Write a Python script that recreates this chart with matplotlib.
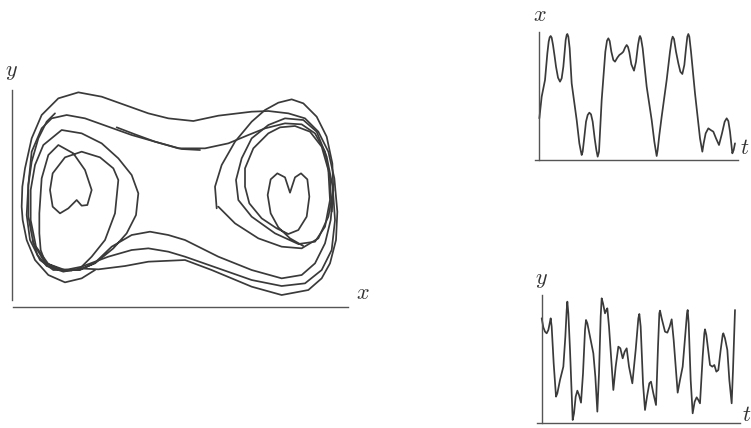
import matplotlib
matplotlib.use("Agg")
import matplotlib.pyplot as plt

plt.rcParams['mathtext.fontset'] = 'cm'

# phase portrait strands (x, y)
strand_outer = [(285, 110), (245, 85), (195, 73), (145, 95), (105, 140), (80, 200), (68, 260), (65, 300),
                (67, 360), (75, 415), (95, 505), (125, 575), (175, 625), (235, 643), (305, 630), (375, 605),
                (445, 580), (505, 565), (580, 557), (655, 573), (755, 585), (805, 587), (865, 580), (915, 565),
                (955, 525), (985, 465), (1003, 385), (1012, 285), (1008, 200), (990, 130), (965, 85), (925, 50),
                (845, 35), (755, 60), (635, 110), (555, 140), (445, 135), (375, 122), (295, 112), (235, 115)]

strand_start = [(165, 580), (140, 555), (115, 505), (95, 435), (85, 365), (80, 275), (90, 200), (120, 140),
                (160, 110), (205, 112), (245, 120), (325, 150), (395, 170), (445, 175), (505, 165), (555, 150),
                (655, 115), (755, 80), (845, 62), (915, 70), (965, 110), (995, 170), (1005, 260), (998, 360),
                (980, 450), (950, 525), (910, 560), (855, 565), (805, 545), (755, 505), (725, 445), (708, 380),
                (715, 320), (755, 270), (825, 220), (895, 188), (945, 195), (975, 240), (990, 320), (985, 410),
                (965, 480), (930, 525), (885, 542), (840, 538), (805, 520), (760, 475), (735, 415), (735, 360),
                (748, 310), (785, 265), (830, 235), (865, 218), (895, 230), (920, 270), (928, 330), (922, 382),
                (903, 400), (885, 388), (870, 342), (855, 388), (832, 400), (812, 382), (803, 335), (812, 280),
                (835, 238), (870, 205), (910, 182)]

strand_right = [(650, 295), (645, 360), (665, 425), (705, 495), (755, 555), (795, 590), (835, 612), (875, 622),
                (910, 610), (950, 570), (980, 510), (997, 430), (1000, 350), (985, 270), (955, 205), (905, 175),
                (845, 180), (775, 205), (705, 250), (655, 300)]

strand_cross = [(1000, 350), (992, 260), (975, 190), (945, 130), (905, 95), (845, 85), (755, 110), (655, 150),
                (555, 200), (505, 215), (450, 225), (395, 215), (335, 180), (285, 132), (240, 110), (195, 110),
                (145, 128), (108, 180), (92, 260), (92, 350), (105, 425), (130, 485), (185, 530), (245, 520),
                (305, 490), (355, 445), (395, 395), (415, 340), (408, 275), (380, 220), (340, 175), (285, 130),
                (235, 110), (185, 110), (135, 132), (100, 190), (85, 270), (85, 365), (95, 465), (125, 535),
                (155, 565), (200, 575), (255, 565), (325, 540), (395, 515), (465, 495), (535, 475), (615, 475),
                (685, 490), (745, 515), (795, 535), (855, 550), (905, 547), (945, 520), (975, 465), (990, 385),
                (995, 285)]

strand_heart = [(215, 108), (165, 112), (135, 135), (122, 170), (118, 220), (118, 280), (125, 385), (145, 455),
                (175, 485), (220, 460), (255, 410), (275, 350), (262, 305), (245, 303), (230, 320), (205, 295),
                (180, 280), (158, 300), (150, 350), (158, 400), (195, 448), (245, 465), (300, 448), (340, 415),
                (355, 380), (350, 330), (345, 280), (315, 200), (275, 150), (240, 115), (190, 105), (140, 122),
                (112, 155), (98, 200)]

strand_tail = [(350, 538), (405, 517), (465, 495), (545, 473), (600, 470)]

phase_strands = [strand_outer, strand_start, strand_right, strand_cross, strand_heart, strand_tail]

# time series x(t), (t, x)
x_series = [(0, 100), (7, 165), (17, 215), (24, 295), (28, 330), (31, 343), (34, 347), (37, 342), (41, 320),
            (46, 285), (50, 255), (56, 222), (62, 210), (67, 220), (72, 255), (76, 300), (79, 335), (82, 350),
            (84, 353), (87, 345), (91, 310), (97, 205), (112, 95), (120, 25), (124, 4), (127, -10), (130, 0),
            (134, 35), (140, 90), (145, 110), (150, 117), (155, 112), (160, 90), (166, 40), (171, 5), (175, -15),
            (179, 0), (187, 155), (198, 300), (203, 333), (207, 340), (211, 332), (216, 300), (222, 275),
            (227, 270), (234, 282), (240, 290), (247, 295), (252, 300), (257, 312), (262, 320), (266, 314),
            (270, 298), (276, 262), (284, 243), (290, 270), (296, 320), (300, 342), (302, 347), (305, 340),
            (310, 310), (322, 195), (337, 95), (345, 30), (349, 5), (352, -13), (355, 5), (360, 50), (367, 105),
            (382, 215), (392, 300), (397, 335), (400, 345), (404, 338), (410, 300), (417, 265), (423, 240),
            (429, 233), (435, 260), (440, 310), (444, 345), (447, 353), (450, 345), (455, 300), (467, 175),
            (482, 40), (489, 0), (493, 25), (499, 55), (507, 70), (514, 65), (522, 60), (530, 40), (539, 20),
            (548, 55), (556, 90), (562, 100), (567, 92), (572, 60), (579, -5), (583, 5), (587, 25)]

# time series y(t), (t, y)
y_series = [(0, 315), (5, 288), (10, 275), (15, 270), (20, 280), (24, 300), (27, 315), (30, 290), (36, 180),
            (43, 80), (47, 90), (55, 130), (65, 170), (71, 260), (75, 340), (77, 365), (80, 330), (85, 220),
            (93, 10), (97, 30), (102, 80), (107, 98), (112, 85), (118, 62), (124, 150), (130, 280), (133, 310),
            (137, 300), (145, 260), (155, 210), (161, 140), (167, 35), (172, 150), (177, 320), (180, 375),
            (184, 360), (190, 330), (194, 340), (197, 345), (202, 290), (215, 100), (222, 170), (230, 230),
            (236, 225), (243, 195), (249, 215), (255, 225), (262, 170), (272, 120), (282, 220), (290, 315),
            (293, 328), (297, 290), (304, 120), (310, 40), (316, 80), (323, 120), (328, 125), (335, 90),
            (343, 55), (349, 230), (353, 330), (355, 338), (360, 315), (370, 275), (377, 272), (384, 290),
            (390, 312), (396, 250), (408, 92), (415, 130), (423, 170), (432, 280), (436, 330), (438, 340),
            (441, 300), (447, 130), (453, 30), (459, 65), (465, 78), (470, 70), (475, 60), (483, 200), (488, 270),
            (490, 282), (494, 265), (505, 175), (512, 170), (518, 175), (524, 155), (530, 160), (537, 220),
            (543, 265), (545, 270), (550, 255), (557, 220), (563, 130), (570, 60), (574, 160), (578, 280),
            (580, 340)]

line_kw = dict(color='#3a3a3a', lw=1.25, solid_joinstyle='round', solid_capstyle='round')
axis_kw = dict(color='#555555', lw=1.0)
lab_kw = dict(fontsize=16, ha='center', va='center', color='#333333')

fig = plt.figure(figsize=(7.51, 4.28), dpi=100)

# phase plane
ax = fig.add_axes([0, 0.2523, 0.5060, 0.6542])
for s in phase_strands:
    ax.plot([p[0] for p in s], [p[1] for p in s], **line_kw)
ax.plot([35, 35], [20, 650], **axis_kw)
ax.plot([40, 1045], [0, 0], **axis_kw)
ax.text(35, 705, r'$y$', **lab_kw)
ax.text(1088, 40, r'$x$', **lab_kw)
ax.set_xlim(0, 1140)
ax.set_ylim(-40, 800)
ax.axis('off')

# x against t
ax2 = fig.add_axes([0.6658, 0.6028, 0.3342, 0.3972])
ax2.plot([p[0] for p in x_series], [p[1] for p in x_series], **line_kw)
ax2.plot([0, 0], [-25, 360], **axis_kw)
ax2.plot([-13, 597], [-25, -25], **axis_kw)
ax2.text(2, 410, r'$x$', **lab_kw)
ax2.text(617, 10, r'$t$', **lab_kw)
ax2.set_xlim(-118, 635)
ax2.set_ylim(-55, 455)
ax2.axis('off')

# y against t
ax3 = fig.add_axes([0.6658, 0, 0.3342, 0.4393])
ax3.plot([p[0] for p in y_series], [p[1] for p in y_series], **line_kw)
ax3.plot([0, 0], [2, 385], **axis_kw)
ax3.plot([-13, 595], [0, 0], **axis_kw)
ax3.text(0, 430, r'$y$', **lab_kw)
ax3.text(614, 25, r'$t$', **lab_kw)
ax3.set_xlim(-125, 628)
ax3.set_ylim(-14, 550)
ax3.axis('off')

fig.savefig('out.png', dpi=100)
